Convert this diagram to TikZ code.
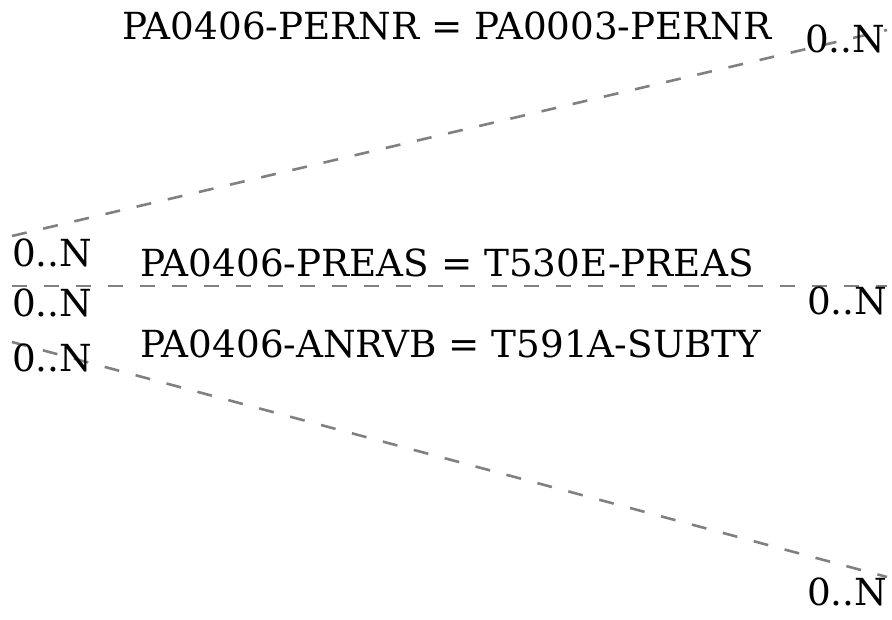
\documentclass[tikz,border=0pt]{standalone}
\usepackage{fontspec}
\setmainfont{DejaVu Serif}
\usetikzlibrary{positioning}

\tikzset{
  rel/.style={draw=gray, line width=2.6pt, dash pattern=on 15pt off 17pt},
  card/.style={inner sep=0pt, anchor=base west, font=\fontsize{37.3}{37.3}\selectfont},
  cond/.style={inner sep=0pt, anchor=base west, font=\fontsize{37.3}{37.3}\selectfont},
}

\begin{document}
\begin{tikzpicture}[x=1pt, y=-1pt]
  \useasboundingbox (0,0) rectangle (892,620);
  % end points of the three relations
  \coordinate (l1) at (12,236);  \coordinate (r1) at (887,30);
  \coordinate (l2) at (12,286);  \coordinate (r2) at (887,286);
  \coordinate (l3) at (12,342);  \coordinate (r3) at (887,577);

  \draw[rel] (l1) -- (r1);
  \draw[rel] (l2) -- (r2);
  \draw[rel] (l3) -- (r3);

  % join conditions
  \node[cond] (c1) at (122,40) {PA0406-PERNR = PA0003-PERNR};
  \node[cond] (c2) at (140,277) {PA0406-PREAS = T530E-PREAS};
  \node[cond] (c3) at (140,358) {PA0406-ANRVB = T591A-SUBTY};

  % cardinalities
  \node[card] (m1) at (12,267) {0..N};
  \node[card] (m2) at (12,317) {0..N};
  \node[card] (m3) at (12,372) {0..N};
  \node[card] (n1) at (805,53) {0..N};
  \node[card] (n2) at (807,315) {0..N};
  \node[card] (n3) at (807,605) {0..N};
\end{tikzpicture}
\end{document}
